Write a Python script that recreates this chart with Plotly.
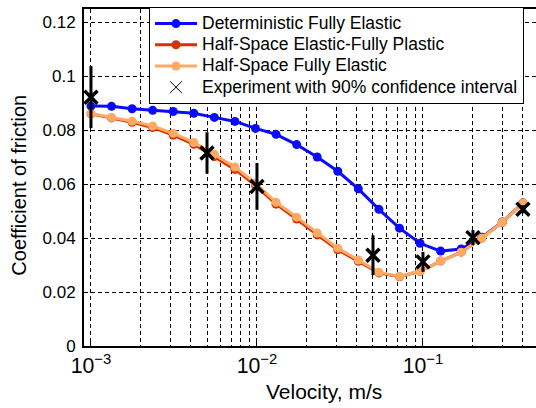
import plotly.graph_objects as go

velocity = [0.001, 0.001330, 0.001769, 0.002353, 0.003130, 0.004164, 0.005538,
            0.007367, 0.009799, 0.01303, 0.01734, 0.02306, 0.03068, 0.04081,
            0.05428, 0.07221, 0.09603, 0.1278, 0.1699, 0.2260, 0.3006, 0.4]

det_elastic = [0.0890, 0.0889, 0.0880, 0.0874, 0.0870, 0.0863, 0.0848, 0.0833,
               0.0807, 0.0785, 0.0747, 0.0701, 0.0648, 0.0583, 0.0507, 0.0437,
               0.0381, 0.0352, 0.0360, 0.0403, 0.0460, 0.0530]

hs_plastic = [0.0861, 0.0846, 0.0830, 0.0810, 0.0782, 0.0748, 0.0703, 0.0655,
              0.0596, 0.0526, 0.0471, 0.0412, 0.0357, 0.0314, 0.0271, 0.0257,
              0.0277, 0.0315, 0.0348, 0.0400, 0.0459, 0.0530]

hs_elastic = [0.0862, 0.0848, 0.0834, 0.0816, 0.0789, 0.0755, 0.0711, 0.0664,
              0.0604, 0.0533, 0.0478, 0.0419, 0.0363, 0.0319, 0.0274, 0.0258,
              0.0278, 0.0315, 0.0348, 0.0400, 0.0459, 0.0530]

exp_v = [0.001, 0.005, 0.01, 0.05, 0.1, 0.2, 0.4]
exp_mu = [0.0923, 0.0716, 0.0592, 0.0337, 0.0312, 0.0402, 0.0507]
exp_err = [0.0115, 0.0077, 0.0087, 0.0074, 0.0037, 0.0028, 0.0015]

y_ticks = [0, 0.02, 0.04, 0.06, 0.08, 0.1, 0.12]
y_ticktext = ["0", "0.02", "0.04", "0.06", "0.08", "0.1", "0.12"]

BLUE = "#0a0aff"
RED = "#d93000"
ORANGE = "#ffaa64"
FONT = "Arial"
LEG = '<span style="font-size:17.5px">%s</span>'

fig = go.Figure()
fig.add_trace(go.Scatter(x=velocity, y=det_elastic, mode="lines+markers",
                         name=LEG % "Deterministic Fully Elastic",
                         line=dict(color=BLUE, width=3),
                         marker=dict(color=BLUE, size=9, symbol="circle")))
fig.add_trace(go.Scatter(x=velocity, y=hs_plastic, mode="lines+markers",
                         name=LEG % "Half-Space Elastic-Fully Plastic",
                         line=dict(color=RED, width=3),
                         marker=dict(color=RED, size=9, symbol="circle")))
fig.add_trace(go.Scatter(x=velocity, y=hs_elastic, mode="lines+markers",
                         name=LEG % "Half-Space Fully Elastic",
                         line=dict(color=ORANGE, width=3),
                         marker=dict(color=ORANGE, size=9, symbol="circle")))
fig.add_trace(go.Scatter(x=exp_v, y=exp_mu, mode="markers", showlegend=False,
                         error_y=dict(type="data", array=exp_err, color="black",
                                      thickness=3, width=0),
                         marker=dict(symbol="x-thin", size=13,
                                     line=dict(color="black", width=3.5))))
fig.add_trace(go.Scatter(x=[None], y=[None], mode="markers",
                         name=LEG % "Experiment with 90% confidence interval",
                         marker=dict(symbol="x-thin", size=12,
                                     line=dict(color="black", width=1))))

grid = dict(gridcolor="black", griddash="4px,3px", gridwidth=1)

fig.update_layout(
    width=536, height=408,
    margin=dict(l=84, r=0, t=9, b=62),
    paper_bgcolor="white", plot_bgcolor="white",
    font=dict(family=FONT, size=17, color="black"),
    legend=dict(x=0.1438, y=1.006, xanchor="left", yanchor="top",
                bgcolor="white", bordercolor="black", borderwidth=1,
                font=dict(family=FONT, size=14), itemwidth=42, tracegroupgap=0),
    xaxis=dict(type="log", range=[-3.042, -0.319],
               showline=True, linecolor="black", linewidth=2, mirror=True,
               ticks="inside", ticklen=4, tickcolor="black",
               dtick=1, exponentformat="power", showexponent="all",
               showgrid=True, **grid,
               minor=dict(dtick="D1", showgrid=True, **grid),
               zeroline=False,
               tickfont=dict(family=FONT, size=17)),
    yaxis=dict(range=[0, 0.125], tickvals=y_ticks, ticktext=y_ticktext,
               showline=True, linecolor="black", linewidth=2, mirror=False,
               ticks="inside", ticklen=4, tickcolor="black",
               ticklabelstandoff=3,
               showgrid=True, **grid,
               zeroline=False,
               tickfont=dict(family=FONT, size=17)),
    annotations=[
        dict(text="Velocity, m/s", xref="paper", yref="paper",
             x=0.532, y=-0.135, xanchor="center", yanchor="middle",
             showarrow=False, font=dict(family=FONT, size=21)),
        dict(text="Coefficient of friction", xref="paper", yref="paper",
             x=-0.144, y=0.4785, xanchor="center", yanchor="middle",
             textangle=-90, showarrow=False, font=dict(family=FONT, size=20)),
    ],
)

fig.write_html("out.html")
